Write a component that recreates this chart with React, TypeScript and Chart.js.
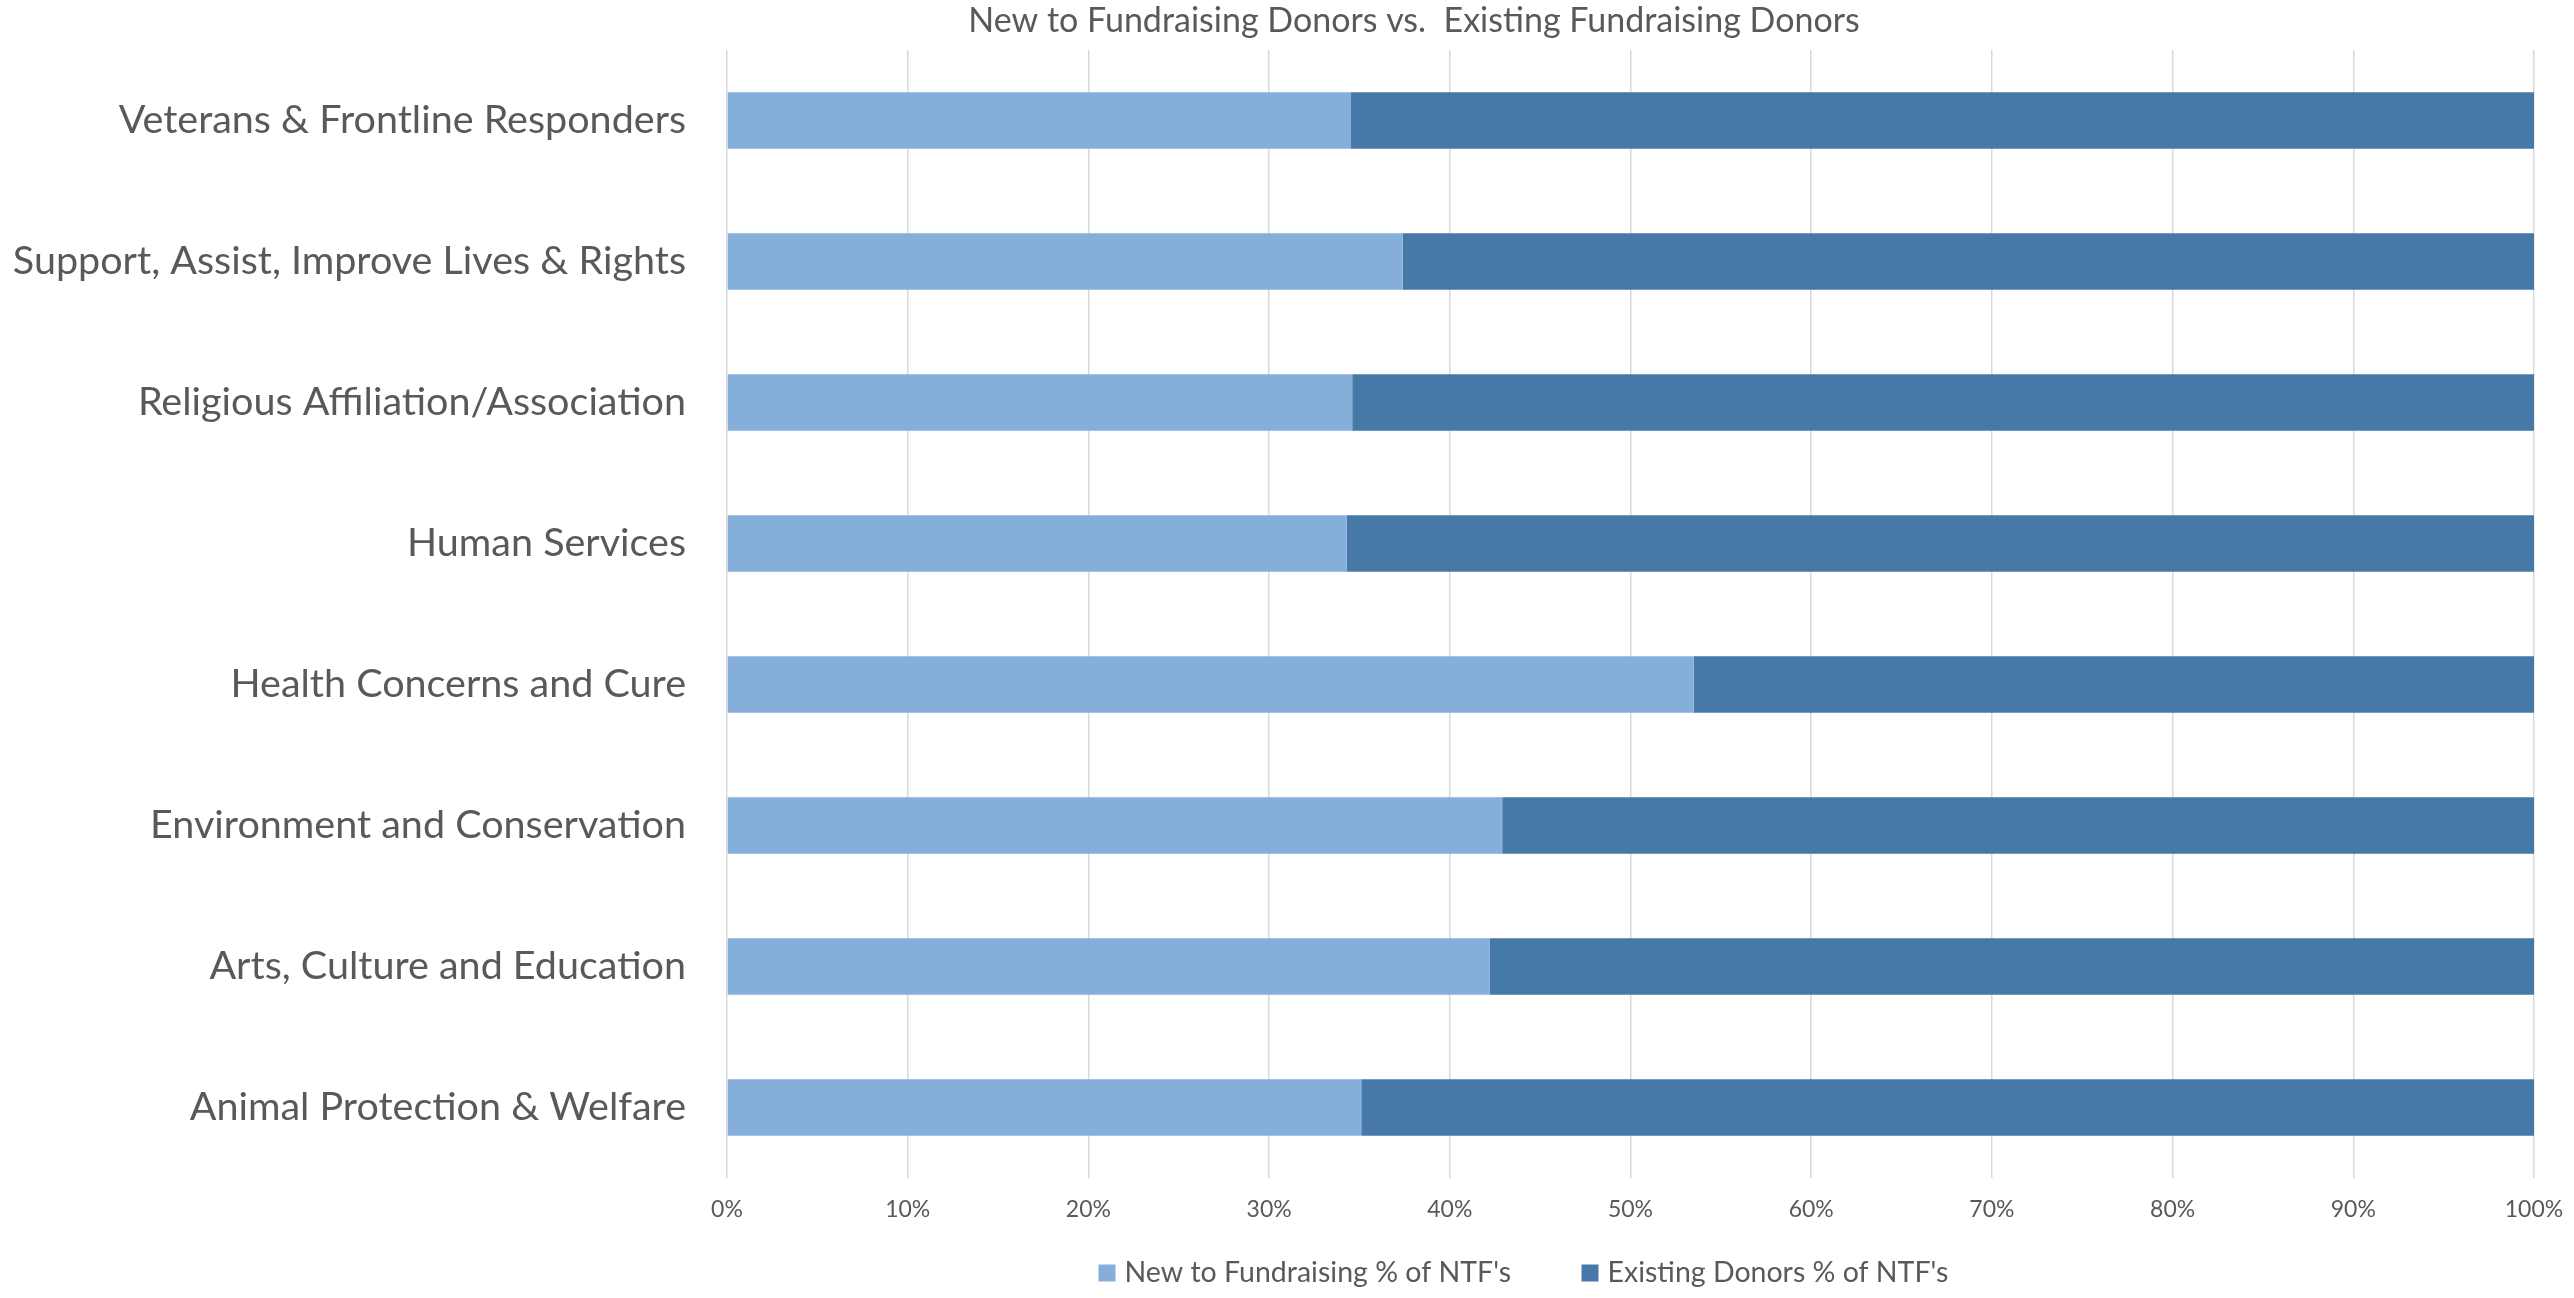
import React, { useEffect, useRef } from "react";
import { Chart, registerables } from "chart.js";

Chart.register(...registerables);

const titleText = "New to Fundraising Donors vs.  Existing Fundraising Donors";
const categories = [
  "Veterans & Frontline Responders",
  "Support, Assist, Improve Lives & Rights",
  "Religious Affiliation/Association",
  "Human Services",
  "Health Concerns and Cure",
  "Environment and Conservation",
  "Arts, Culture and Education",
  "Animal Protection & Welfare",
];
const seriesNames = ["New to Fundraising % of NTF's", "Existing Donors % of NTF's"];
const newToFundraising = [34.5, 37.4, 34.6, 34.3, 53.5, 42.9, 42.2, 35.1];
const existingDonors = [65.5, 62.6, 65.4, 65.7, 46.5, 57.1, 57.8, 64.9];
const xMin = 0;
const xMax = 100;
const xStep = 10;

const W = 2574;
const H = 1298;
const FONT = "Lato";
const TEXT = "#595959";
const LIGHT = "#86AEDB";
const DARK = "#4779A8";
const GRID = "#D9D9D9";

const TITLE_X = 1414;
const TITLE_BASELINE = 32;
const LEGEND_BOX_X = [1098.5, 1581.5];
const LEGEND_BOX_TOP = 1264.5;
const LEGEND_BOX = 17;
const LEGEND_TEXT_GAP = 9;
const LEGEND_BASELINE = 1282;

const overlay = {
  id: "overlay",
  afterDraw(chart: any) {
    const ctx = chart.ctx;
    ctx.save();
    ctx.fillStyle = TEXT;
    ctx.font = `normal 34px ${FONT}`;
    ctx.textAlign = "center";
    ctx.textBaseline = "alphabetic";
    ctx.fillText(titleText, TITLE_X, TITLE_BASELINE);
    ctx.font = `normal 28.5px ${FONT}`;
    ctx.textAlign = "left";
    chart.data.datasets.forEach((ds: any, i: number) => {
      const bx = LEGEND_BOX_X[i];
      ctx.fillStyle = ds.backgroundColor;
      ctx.fillRect(bx, LEGEND_BOX_TOP, LEGEND_BOX, LEGEND_BOX);
      ctx.fillStyle = TEXT;
      ctx.fillText(ds.label, bx + LEGEND_BOX + LEGEND_TEXT_GAP, LEGEND_BASELINE);
    });
    ctx.restore();
  },
};

export default function App() {
  const ref = useRef<HTMLCanvasElement | null>(null);
  useEffect(() => {
    if (!ref.current) return;
    const chart = new Chart(ref.current, {
      type: "bar",
      data: {
        labels: categories,
        datasets: [
          {
            label: seriesNames[0],
            data: newToFundraising,
            backgroundColor: LIGHT,
            borderWidth: 0,
            barPercentage: 0.4,
            categoryPercentage: 1.0,
          },
          {
            label: seriesNames[1],
            data: existingDonors,
            backgroundColor: DARK,
            borderWidth: 0,
            barPercentage: 0.4,
            categoryPercentage: 1.0,
          },
        ],
      },
      options: {
        indexAxis: "y",
        responsive: false,
        animation: false,
        maintainAspectRatio: false,
        layout: { padding: { left: 0, right: 40, top: 50, bottom: 60 } },
        plugins: {
          title: { display: false },
          legend: { display: false },
          tooltip: { enabled: false },
        },
        scales: {
          x: {
            stacked: true,
            min: xMin,
            max: xMax,
            grid: { color: GRID, lineWidth: 1.5, drawTicks: false },
            border: { display: false },
            ticks: {
              stepSize: xStep,
              color: TEXT,
              font: { family: FONT, size: 23 },
              padding: 18,
              maxRotation: 0,
              autoSkip: false,
              callback: (v: any) => v + "%",
            },
            afterFit: (s: any) => {
              s.height = 60;
              s.paddingLeft = 0;
              s.paddingRight = 0;
            },
          },
          y: {
            stacked: true,
            grid: { display: false, drawTicks: false },
            border: { display: false },
            ticks: {
              color: TEXT,
              font: { family: FONT, size: 39.5 },
              padding: 41,
              autoSkip: false,
            },
            afterFit: (s: any) => {
              s.width = 727;
              s.paddingTop = 0;
              s.paddingBottom = 0;
            },
          },
        },
      },
      plugins: [overlay],
    } as any);
    return () => chart.destroy();
  }, []);
  return (
    <div style={{ position: "absolute", left: 0, top: 0, width: W, height: H, background: "#fff" }}>
      <canvas ref={ref} width={W} height={H} style={{ display: "block", width: W, height: H }} />
    </div>
  );
}
